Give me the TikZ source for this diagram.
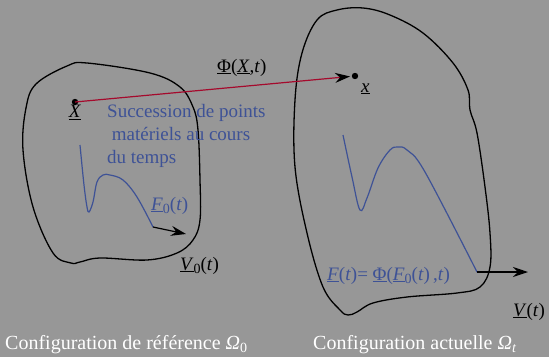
\documentclass[tikz,border=0pt]{standalone}
\usepackage{fontspec}
\setmainfont{Liberation Serif}
\usetikzlibrary{arrows.meta, calc}

\definecolor{bggray}{RGB}{151,151,151}
\definecolor{curveblue}{RGB}{62,82,150}
\definecolor{phired}{RGB}{165,10,45}
\newcommand{\lowsub}[1]{\raisebox{-0.4ex}{\fontsize{14}{14}\selectfont #1}}

\begin{document}
\begin{tikzpicture}[
  x=1pt, y=-1pt,
  font=\fontsize{19}{23}\selectfont,
  config/.style={draw=black, line width=1.3pt},
  traj/.style={draw=curveblue, line width=1.2pt},
  lbl/.style={inner sep=0pt, anchor=base west},
  bluelbl/.style={lbl, text=curveblue},
  caption/.style={lbl, text=white, font=\fontsize{20}{24}\selectfont},
  arr/.style={-{Stealth[length=15pt, width=10pt, inset=5pt]}, line width=1.2pt},
  phiarr/.style={-{Stealth[length=15pt, width=10pt, inset=5pt, color=black]}, line width=1.2pt, draw=phired}
]
% background and frame
\fill[bggray] (0,0) rectangle (549,357);
\useasboundingbox (0,0) rectangle (549,357);

% reference configuration
\draw[config] plot[smooth cycle, tension=0.6] coordinates {
  (36,84) (67,66) (87,63) (150,73) (180,87) (193,107) (198,130)
  (200,180) (200,220) (193,240) (177,253) (147,260) (100,258)
  (80,262) (71,263) (53,253) (33,207) (23,150) (26,108)};

% current configuration
\draw[config] plot[smooth cycle, tension=0.6] coordinates {
  (337,10) (363,8) (390,15) (423,33) (453,63) (468,90) (470,110)
  (477,133) (485,187) (490,233) (490,267) (480,287) (457,293)
  (407,297) (373,303) (357,312) (348,315) (340,310) (323,287)
  (307,233) (295,167) (295,100) (302,53) (317,20)};

% points
\coordinate (X) at (75,102);
\coordinate (x) at (355,76);
\fill (X) circle (3.2pt);
\fill (x) circle (3.2pt);
\draw[phiarr, shorten >=5pt] (X) -- (x);

% trajectories
\coordinate (F0end) at (153,227);
\coordinate (Fend) at (477,272);
\draw[traj] plot[smooth, tension=0.6] coordinates {
  (80,145) (84,185) (87,207) (89,212) (93,202) (97,182) (103,175)
  (110,175) (123,180) (137,197) (153,227)};
\draw[traj] plot[smooth, tension=0.6] coordinates {
  (343,135) (352,177) (360,210) (367,198) (378,168) (390,150)
  (398,147) (407,150) (425,172) (477,272)};

% velocities
\coordinate (V0tip) at (186,234);
\coordinate (Vtip) at (528,272);
\draw[arr] (F0end) -- (V0tip);
\draw[arr] (Fend) -- (Vtip);

% labels
\node[lbl, anchor=north] (Xlbl) at (75,105) {\underline{\textit{X}}};
\node[lbl] (xlbl) at (361,92) {\underline{\textit{x}}};
\node[lbl] (philbl) at (217,72) {\underline{Φ}(\underline{\textit{X}},\textit{t})};
\node[bluelbl, anchor=north west, align=left] (succ) at (107,104)
  {Succession de points\\ \ matériels au cours\\du temps};
\node[bluelbl] (F0lbl) at (151,210) {\underline{\textit{F}}\lowsub{0}(\textit{t})};
\node[lbl] (V0lbl) at (180,270) {\underline{\textit{V}}\lowsub{0}(\textit{t})};
\node[bluelbl] (Flbl) at (327,280)
  {\underline{\textit{F}}(\textit{t})= \underline{Φ}(\underline{\textit{F}}\lowsub{0}(\textit{t})\,,\textit{t})};
\node[lbl] (Vlbl) at (513,316) {\underline{\textit{V}}(\textit{t})};

% captions
\node[caption] (cap0) at (5,349) {Configuration de référence \textit{Ω}\lowsub{0}};
\node[caption] (capt) at (313,349) {Configuration actuelle \textit{Ω}\lowsub{\textit{t}}};
\end{tikzpicture}
\end{document}
